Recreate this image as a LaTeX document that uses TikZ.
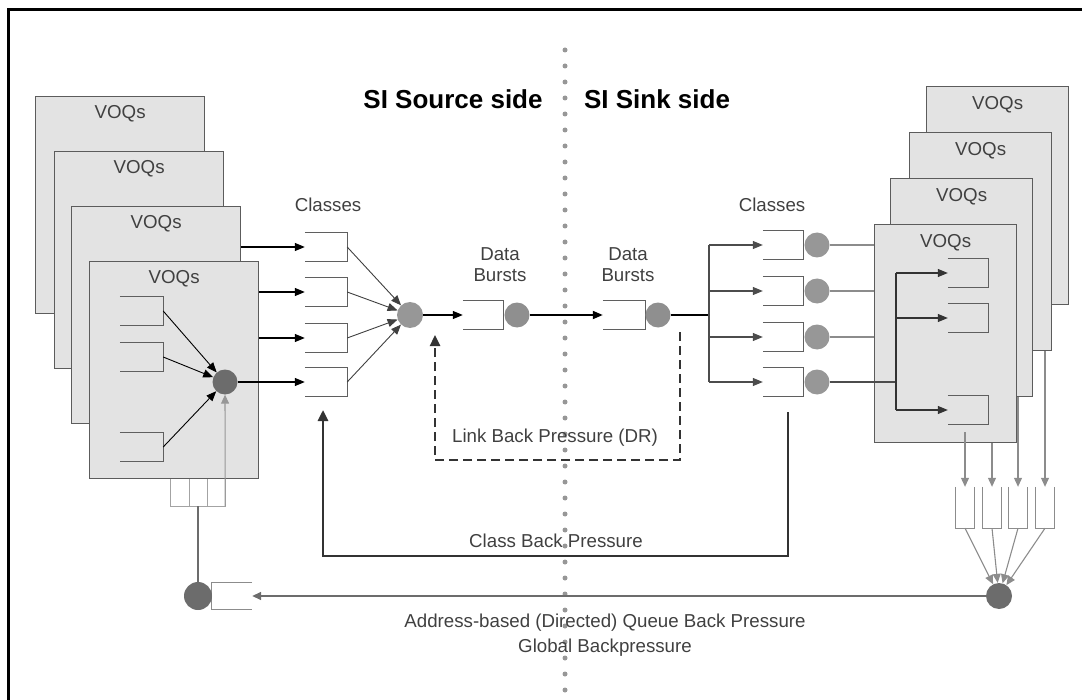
\documentclass[tikz,border=0pt]{standalone}
\usepackage{fontspec}
\setmainfont{Liberation Sans}
\usetikzlibrary{arrows.meta,calc}

\definecolor{boxfill}{HTML}{E3E3E3}
\definecolor{boxline}{HTML}{5C5C5C}
\definecolor{txt}{HTML}{404040}
\definecolor{darkdot}{HTML}{6C6C6C}
\definecolor{middot}{HTML}{979797}
\definecolor{lgray}{HTML}{8C8C8C}
\definecolor{qcol}{HTML}{5F5F5F}

\begin{document}
\begin{tikzpicture}[x=1pt,y=-1pt,
  voq/.style={draw=boxline, fill=boxfill, line width=1.3pt, minimum width=169pt,
    minimum height=217pt, inner sep=0pt, anchor=north west},
  voqr/.style={voq, minimum width=142pt, minimum height=218pt},
  lbl/.style={text=txt, font=\fontsize{18.7}{20}\selectfont, inner sep=0pt},
  title/.style={text=black, font=\fontsize{26}{28}\selectfont\bfseries, inner sep=0pt},
  queue/.style={inner sep=0pt, minimum width=42pt, minimum height=28pt},
  qline/.style={draw=qcol, line width=1.3pt},
  dot/.style={circle, inner sep=0pt, minimum size=25pt},
  arr/.style={draw=black, line width=1.2pt, -{Triangle[length=10pt,width=8pt]}},
  garr/.style={draw=lgray, line width=1.3pt, -{Triangle[length=9pt,width=8pt]}},
  gline/.style={draw=lgray, line width=1.3pt},
  backp/.style={draw=black!80, line width=2.6pt},
]
\useasboundingbox (0,0) rectangle (1091,700);

% outer frame (left and top edges)
\draw[line width=3pt] (8,700) -- (8,10) -- (1082,10);

% separator between source and sink sides
\draw[draw=middot, line width=5pt, line cap=round, dash pattern=on 0pt off 16pt]
  (565,50) -- (565,692);
\node[title] (tsrc) at (453,99) {SI Source side};
\node[title] (tsnk) at (657,99) {SI Sink side};

% ---------------- source side VOQ stack ----------------
\node[voq] (L1) at (35,96) {};
\node[voq] (L2) at (54,151) {};
\node[voq] (L3) at (71,206) {};
\node[voq] (L4) at (89,261) {};
\foreach \b in {L1,L2,L3,L4}
  \node[lbl] (\b t) at ($(\b.north)+(0,18)$) {VOQs};

% queues inside the front VOQ box (open on the left)
\foreach \n/\y in {iq1/311, iq2/357, iq3/447} {
  \node[queue, minimum width=43pt] (\n) at (141.5,\y) {};
  \draw[qline] (\n.north west) -- (\n.north east) -- (\n.south east) -- (\n.south west);
}
\node[dot, fill=darkdot] (S) at (225,382) {};
\foreach \n in {iq1,iq2,iq3}
  \draw[arr, line width=0.9pt] (\n.east) -- (S);

% small three-cell queue below the front box
\node[inner sep=0pt, minimum width=54pt, minimum height=27pt] (tc) at (198,492.5) {};
\draw[draw=lgray!80, line width=1.2pt]
  (tc.north west) -- (tc.south west) -- (tc.south east) -- (tc.north east);
\draw[draw=lgray!80, line width=1.2pt]
  ($(tc.north west)+(19,0)$) -- ($(tc.south west)+(19,0)$)
  ($(tc.north west)+(37,0)$) -- ($(tc.south west)+(37,0)$);
\draw[garr, draw=lgray!90, line width=1.1pt] (tc.south east) -- (S);

% ---------------- source side classes ----------------
\node[lbl] (clsL) at (328,205) {Classes};
\foreach \n/\y in {CL1/247, CL2/292, CL3/338, CL4/382} {
  \node[queue] (\n) at (326,\y) {};
  \draw[qline] (\n.north west) -- (\n.north east) -- (\n.south east) -- (\n.south west);
}
\draw[arr] (L3.east |- CL1) -- (CL1.west);
\draw[arr] (L4.east |- CL2) -- (CL2.west);
\draw[arr] (L4.east |- CL3) -- (CL3.west);
\draw[arr] (S) -- (CL4.west);

\node[dot, fill=middot, minimum size=26pt] (M) at (410,315) {};
\foreach \n in {CL1,CL2,CL3,CL4}
  \draw[arr, draw=black!75, line width=0.9pt] (\n.east) -- (M);

% ---------------- data bursts over the link ----------------
\node[queue, minimum width=40pt] (DQ1) at (483,315) {};
\draw[qline] (DQ1.north west) -- (DQ1.north east) -- (DQ1.south east) -- (DQ1.south west);
\node[dot, fill=middot!95!black] (DC1) at (517,315) {};
\node[lbl, align=center] (dbl1) at (500,265) {Data\\[1pt]Bursts};
\draw[arr] (M) -- (DQ1.west);

\node[queue] (DQ2) at (624,315) {};
\draw[qline] (DQ2.north west) -- (DQ2.north east) -- (DQ2.south east) -- (DQ2.south west);
\node[dot, fill=middot!95!black] (DC2) at (658,315) {};
\node[lbl, align=center] (dbl2) at (628,265) {Data\\[1pt]Bursts};
\draw[arr, line width=1.8pt] (DC1) -- (DQ2.west);

% ---------------- sink side classes ----------------
\node[lbl] (clsR) at (772,205) {Classes};
\coordinate (D) at (709,315);
\draw[line width=1.6pt] (DC2) -- (D);
\foreach \i/\y in {1/245, 2/291, 3/337, 4/382} {
  \node[queue, minimum width=40pt] (CR\i) at (783,\y) {};
  \draw[qline] (CR\i.north west) -- (CR\i.north east) -- (CR\i.south east) -- (CR\i.south west);
  \node[dot, fill=middot] (RC\i) at (817,\y) {};
  \draw[arr, draw=black!70, line width=1.1pt] (D |- CR\i) -- (CR\i.west);
}
\draw[draw=black!70, line width=1.1pt] (D |- CR1) -- (D |- CR4);

% ---------------- sink side VOQ stack ----------------
\node[voqr] (R1) at (926,86) {};
\node[voqr] (R2) at (909,132) {};
\node[voqr] (R3) at (890,178) {};
\node[voqr] (R4) at (874,224) {};
\foreach \b in {R1,R2,R3,R4}
  \node[lbl] (\b t) at ($(\b.north)+(0,19)$) {VOQs};

\foreach \i in {1,2,3}
  \draw[gline] (RC\i) -- (R4.west |- RC\i);
\coordinate (E) at (896,382);
\draw[gline, draw=black!70] (RC4) -- (E);

\foreach \n/\y in {IR1/273, IR2/318, IR3/410} {
  \node[queue, minimum width=40pt, minimum height=29pt] (\n) at (968,\y) {};
  \draw[qline] (\n.north west) -- (\n.north east) -- (\n.south east) -- (\n.south west);
  \draw[arr, draw=black!80, line width=1.1pt] (E |- \n) -- (\n.west);
}
\draw[draw=black!80, line width=1.1pt] (E |- IR1) -- (E |- IR3);

% output queues below the sink VOQ stack (open at the top)
\foreach \n/\x in {VQ1/965, VQ2/992, VQ3/1018, VQ4/1045} {
  \node[inner sep=0pt, minimum width=19pt, minimum height=41pt] (\n) at (\x,507.5) {};
  \draw[draw=lgray, line width=1.2pt]
    (\n.north west) -- (\n.south west) -- (\n.south east) -- (\n.north east);
}
\coordinate (v1) at (965,432);
\draw[garr, line width=1.1pt] (v1) -- (VQ1.north);
\draw[garr, line width=1.1pt] (R4.south -| VQ2) -- (VQ2.north);
\draw[garr, line width=1.1pt] (R3.south -| VQ3) -- (VQ3.north);
\draw[garr, line width=1.1pt] (R2.south -| VQ4) -- (VQ4.north);

\node[dot, fill=darkdot, minimum size=26pt] (K) at (999,596) {};
\foreach \n in {VQ1,VQ2,VQ3,VQ4}
  \draw[garr, line width=1.1pt] (\n.south) -- (K);

% ---------------- global (address-based) back pressure ----------------
\node[inner sep=0pt, minimum width=40pt, minimum height=26pt] (BQ) at (232,596) {};
\draw[draw=lgray, line width=1.2pt]
  (BQ.north east) -- (BQ.north west) -- (BQ.south west) -- (BQ.south east);
\node[dot, fill=darkdot, minimum width=26pt, minimum height=28pt] (B) at (198,596) {};
\draw[garr, draw=darkdot, line width=1.6pt] (K) -- (BQ.east);
\draw[draw=darkdot, line width=1.6pt] (B) -- (tc.south);
\node[lbl] (abl) at (605,623) {Address-based (Directed) Queue Back Pressure};
\node[lbl] (gbl) at (605,648) {Global Backpressure};

% ---------------- class back pressure ----------------
\coordinate (cb1) at (788,412);
\coordinate (cb2) at (788,556);
\coordinate (cb3) at (323,556);
\coordinate (cb4) at (323,410);
\draw[backp, -{Triangle[length=11pt,width=10pt]}] (cb1) -- (cb2) -- (cb3) -- (cb4);
\node[lbl] (cbl) at (556,541) {Class Back Pressure};

% ---------------- link back pressure ----------------
\coordinate (lb1) at (680,332);
\coordinate (lb2) at (680,460);
\coordinate (lb3) at (435,460);
\coordinate (lb4) at (435,335);
\draw[draw=black!80, line width=2.4pt, dash pattern=on 9pt off 5pt,
  -{Triangle[length=11pt,width=10pt]}] (lb1) -- (lb2) -- (lb3) -- (lb4);
\node[lbl] (lbl) at (555,438) {Link Back Pressure (DR)};
\end{tikzpicture}
\end{document}
